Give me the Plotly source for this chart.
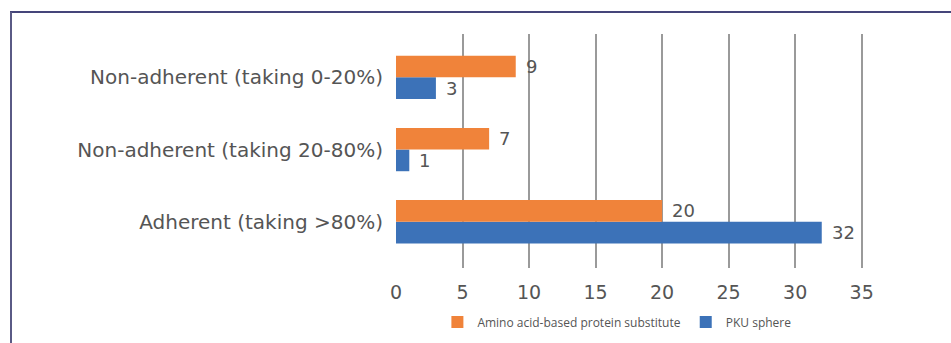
import plotly.graph_objects as go

# Adherence categories, listed bottom to top
categories = ["Adherent (taking >80%)", "Non-adherent (taking 20-80%)", "Non-adherent (taking 0-20%)"]
amino_acid = [20, 7, 9]
pku_sphere = [32, 1, 3]
x_ticks = [0, 5, 10, 15, 20, 25, 30, 35]

ORANGE = "#F0833A"
BLUE = "#3C72B8"
TEXT = "#555555"
FONT = "DejaVu Sans"
LEGEND_FONT = "Open Sans"

ypos = list(range(len(categories)))

fig = go.Figure()
# horizontal grouped bars: first trace sits lower inside each group
fig.add_trace(go.Bar(
    y=ypos, x=pku_sphere, orientation="h", name="PKU sphere",
    marker=dict(color=BLUE, line=dict(width=0)), legendrank=2,
))
fig.add_trace(go.Bar(
    y=ypos, x=amino_acid, orientation="h", name="Amino acid-based protein substitute",
    marker=dict(color=ORANGE, line=dict(width=0)), legendrank=1,
))

# value labels just past the end of each bar
half = 0.15
for yi, v in zip(ypos, amino_acid):
    fig.add_annotation(x=v, y=yi + half, text=str(v), showarrow=False,
                       xanchor="left", xshift=8, font=dict(size=18, color=TEXT, family=FONT))
for yi, v in zip(ypos, pku_sphere):
    fig.add_annotation(x=v, y=yi - half, text=str(v), showarrow=False,
                       xanchor="left", xshift=8, font=dict(size=18, color=TEXT, family=FONT))

# outer frame (top and left rules)
fig.add_shape(type="line", xref="paper", yref="paper", x0=-386/467, x1=2, y0=1 + 22/234, y1=1 + 22/234,
              line=dict(color="#45457A", width=2))
fig.add_shape(type="line", xref="paper", yref="paper", x0=-385/467, x1=-385/467, y0=-2, y1=1 + 22/234,
              line=dict(color="#5A5A85", width=2))

fig.update_layout(
    width=951, height=343,
    margin=dict(l=396, r=88, t=34, b=75, autoexpand=False),
    paper_bgcolor="white", plot_bgcolor="white",
    barmode="group", bargap=0.4, bargroupgap=0,
    font=dict(family=FONT, color=TEXT),
    showlegend=True,
    legend=dict(orientation="h", x=0.473, xanchor="center", xref="paper",
                y=1 - 322 / 343, yanchor="middle", yref="container",
                font=dict(size=12, color=TEXT, family=LEGEND_FONT), itemwidth=30,
                traceorder="normal"),
    xaxis=dict(range=[0, 35.1], tickvals=x_ticks, showgrid=True, gridcolor="#9A9A9A", gridwidth=1.5,
               zeroline=False, showline=False, ticks="", ticklabelstandoff=11,
               tickfont=dict(size=19, color=TEXT)),
    yaxis=dict(range=[-0.64, 2.6], tickvals=ypos, ticktext=categories, showgrid=False,
               zeroline=False, showline=False, ticks="", ticklabelstandoff=12,
               tickfont=dict(size=20, color=TEXT)),
)

fig.write_html("out.html")
